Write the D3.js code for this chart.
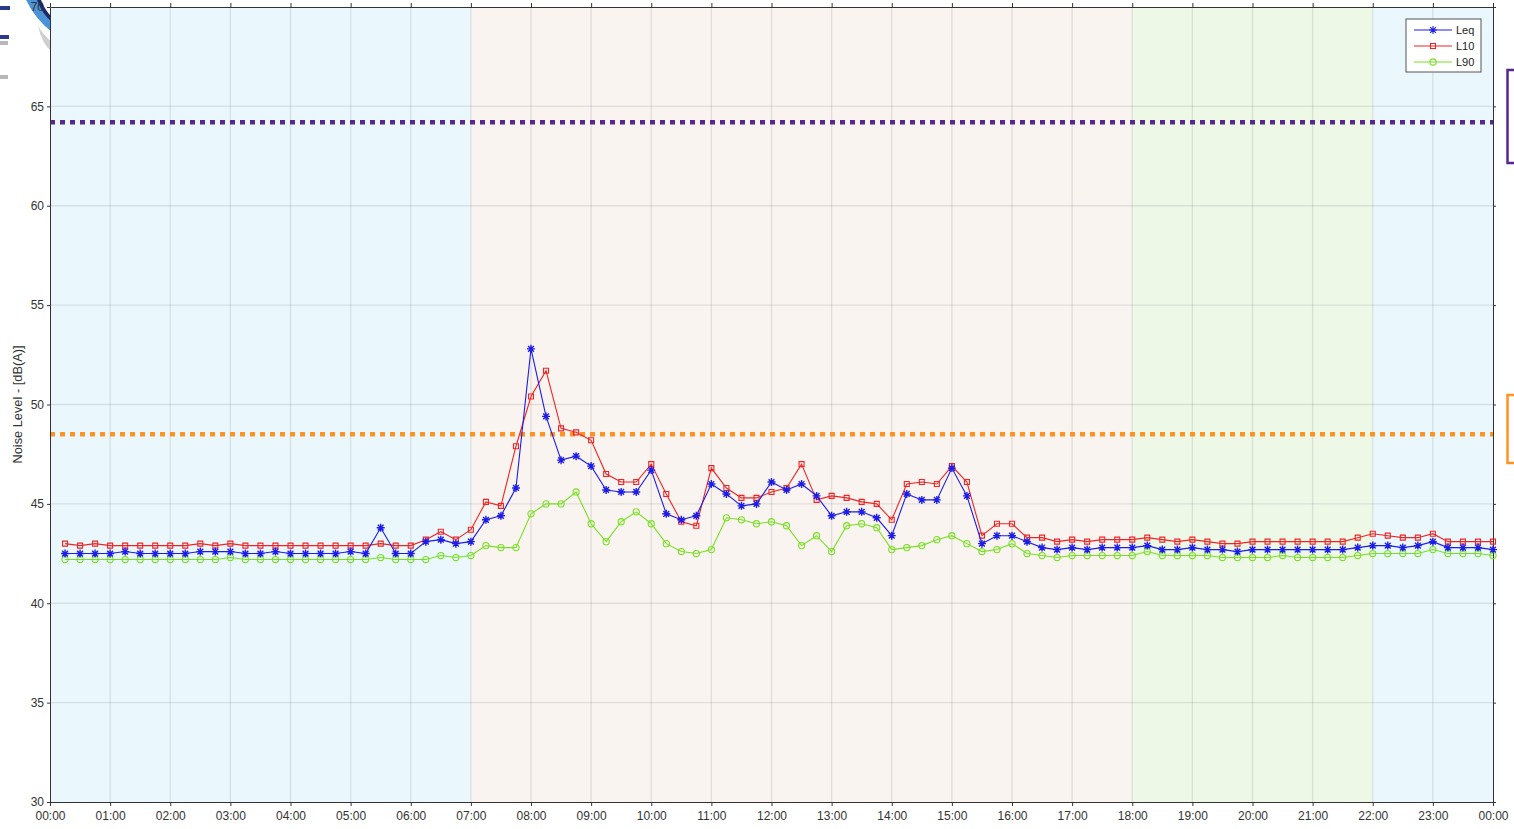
<!DOCTYPE html>
<html>
<head>
<meta charset="utf-8">
<script src="https://cdn.jsdelivr.net/npm/d3@7"></script>
<style>
  body { margin: 0; background: #fff; }
  svg { display: block; }
  .tick text { font-family: "Liberation Sans", Arial, sans-serif; font-size: 12px; fill: #333; }
  .axis path, .axis line { stroke: #333; }
  .legend text { font-family: "Liberation Sans", Arial, sans-serif; font-size: 11px; fill: #222; }
</style>
</head>
<body>
<div id="chart"></div>
<script>
// 15 minute samples, first one at 00:15, last one at 24:00
const firstHour = 0.25;
const stepHour = 0.25;

const leq = [
  42.5, 42.5, 42.5, 42.5, 42.6, 42.5, 42.5, 42.5, 42.5, 42.6, 42.6, 42.6,
  42.5, 42.5, 42.6, 42.5, 42.5, 42.5, 42.5, 42.6, 42.5, 43.8, 42.5, 42.5,
  43.1, 43.2, 43.0, 43.1, 44.2, 44.4, 45.8, 52.8, 49.4, 47.2, 47.4, 46.9,
  45.7, 45.6, 45.6, 46.7, 44.5, 44.2, 44.4, 46.0, 45.5, 44.9, 45.0, 46.1,
  45.7, 46.0, 45.4, 44.4, 44.6, 44.6, 44.3, 43.4, 45.5, 45.2, 45.2, 46.8,
  45.4, 43.0, 43.4, 43.4, 43.1, 42.8, 42.7, 42.8, 42.7, 42.8, 42.8, 42.8,
  42.9, 42.7, 42.7, 42.8, 42.7, 42.7, 42.6, 42.7, 42.7, 42.7, 42.7, 42.7,
  42.7, 42.7, 42.8, 42.9, 42.9, 42.8, 42.9, 43.1, 42.8, 42.8, 42.8, 42.7
];
const l10 = [
  43.0, 42.9, 43.0, 42.9, 42.9, 42.9, 42.9, 42.9, 42.9, 43.0, 42.9, 43.0,
  42.9, 42.9, 42.9, 42.9, 42.9, 42.9, 42.9, 42.9, 42.9, 43.0, 42.9, 42.9,
  43.2, 43.6, 43.2, 43.7, 45.1, 44.9, 47.9, 50.4, 51.7, 48.8, 48.6, 48.2,
  46.5, 46.1, 46.1, 47.0, 45.5, 44.1, 43.9, 46.8, 45.8, 45.3, 45.3, 45.6,
  45.8, 47.0, 45.2, 45.4, 45.3, 45.1, 45.0, 44.2, 46.0, 46.1, 46.0, 46.9,
  46.1, 43.4, 44.0, 44.0, 43.3, 43.3, 43.1, 43.2, 43.1, 43.2, 43.2, 43.2,
  43.3, 43.2, 43.1, 43.2, 43.1, 43.0, 43.0, 43.1, 43.1, 43.1, 43.1, 43.1,
  43.1, 43.1, 43.3, 43.5, 43.4, 43.3, 43.3, 43.5, 43.1, 43.1, 43.1, 43.1
];
const l90 = [
  42.2, 42.2, 42.2, 42.2, 42.2, 42.2, 42.2, 42.2, 42.2, 42.2, 42.2, 42.3,
  42.2, 42.2, 42.2, 42.2, 42.2, 42.2, 42.2, 42.2, 42.2, 42.3, 42.2, 42.2,
  42.2, 42.4, 42.3, 42.4, 42.9, 42.8, 42.8, 44.5, 45.0, 45.0, 45.6, 44.0,
  43.1, 44.1, 44.6, 44.0, 43.0, 42.6, 42.5, 42.7, 44.3, 44.2, 44.0, 44.1,
  43.9, 42.9, 43.4, 42.6, 43.9, 44.0, 43.8, 42.7, 42.8, 42.9, 43.2, 43.4,
  43.0, 42.6, 42.7, 43.0, 42.5, 42.4, 42.3, 42.4, 42.4, 42.4, 42.4, 42.4,
  42.6, 42.4, 42.4, 42.4, 42.4, 42.3, 42.3, 42.3, 42.3, 42.4, 42.3, 42.3,
  42.3, 42.3, 42.4, 42.5, 42.5, 42.5, 42.5, 42.7, 42.5, 42.5, 42.5, 42.4
];

const hourLabels = [
  '00:00', '01:00', '02:00', '03:00', '04:00', '05:00', '06:00', '07:00',
  '08:00', '09:00', '10:00', '11:00', '12:00', '13:00', '14:00', '15:00',
  '16:00', '17:00', '18:00', '19:00', '20:00', '21:00', '22:00', '23:00', '00:00'
];
const yTickValues = [30, 35, 40, 45, 50, 55, 60, 65, 70];

// time of day periods (start hour, end hour, kind)
const periodStart = [0, 7, 18, 22];
const periodEnd = [7, 18, 22, 24];
const periodKind = ['night', 'day', 'evening', 'night'];

// criteria lines
const limitValues = [64.2, 48.5];

const width = 1514;
const height = 829;
const margin = {left: 50, right: 21, top: 7, bottom: 27};
const innerWidth = width - margin.left - margin.right;
const innerHeight = height - margin.top - margin.bottom;

const periodColor = {night: '#eaf8fe', day: '#f9f4f0', evening: '#eef8e7'};
const limitColor = ['#58278c', '#ff9322'];

const seriesList = [
  {name: 'Leq', values: leq, color: '#1d1de8', marker: 'star'},
  {name: 'L10', values: l10, color: '#ee2424', marker: 'square'},
  {name: 'L90', values: l90, color: '#78e021', marker: 'circle'}
];

const svg = d3.select('#chart').append('svg')
  .attr('width', width)
  .attr('height', height);

// bit of the logo peeking in at the top left corner
const logo = svg.append('g');
logo.append('path')
  .attr('d', 'M26,0 L38,0 Q44,14 52,22 L52,32 Q36,20 26,0 Z')
  .attr('fill', '#4b93d6');
logo.append('path')
  .attr('d', 'M37,0 L41,0 Q46,12 52,17 L52,22 Q42,14 37,0 Z')
  .attr('fill', '#1c2a6b');
logo.append('path')
  .attr('d', 'M38,26 Q44,36 52,42 L52,52 Q42,44 38,26 Z')
  .attr('fill', '#cfcfd3');
logo.append('rect').attr('x', 0).attr('y', 6).attr('width', 10).attr('height', 4).attr('fill', '#2b3a8a');
logo.append('rect').attr('x', 0).attr('y', 35).attr('width', 9).attr('height', 4).attr('fill', '#2b3a8a');
logo.append('rect').attr('x', 0).attr('y', 41).attr('width', 8).attr('height', 4).attr('fill', '#b8b8bc');
logo.append('rect').attr('x', 0).attr('y', 75).attr('width', 8).attr('height', 4).attr('fill', '#b8b8bc');

const g = svg.append('g')
  .attr('transform', `translate(${margin.left},${margin.top})`);

const xScale = d3.scaleLinear()
  .domain([0, 24])
  .range([0, innerWidth]);
const yScale = d3.scaleLinear()
  .domain([30, 70])
  .range([innerHeight, 0]);

// period bands
g.selectAll('rect.band').data(periodStart)
  .enter().append('rect')
  .attr('class', 'band')
  .attr('x', (d, i) => xScale(d))
  .attr('y', 0)
  .attr('width', (d, i) => xScale(periodEnd[i]) - xScale(d))
  .attr('height', innerHeight)
  .attr('fill', (d, i) => periodColor[periodKind[i]]);

// grid
const hours = d3.range(hourLabels.length);
g.append('g').selectAll('line').data(hours.slice(1, -1))
  .enter().append('line')
  .attr('x1', d => xScale(d)).attr('x2', d => xScale(d))
  .attr('y1', 0).attr('y2', innerHeight)
  .attr('stroke', 'rgba(60,70,80,0.13)')
  .attr('stroke-width', 1.3);
g.append('g').selectAll('line').data(yTickValues.slice(1, -1))
  .enter().append('line')
  .attr('x1', 0).attr('x2', innerWidth)
  .attr('y1', d => yScale(d)).attr('y2', d => yScale(d))
  .attr('stroke', 'rgba(60,70,80,0.13)')
  .attr('stroke-width', 1.3);

// criteria lines
g.selectAll('line.limit').data(limitValues)
  .enter().append('line')
  .attr('class', 'limit')
  .attr('x1', 0).attr('x2', innerWidth)
  .attr('y1', d => yScale(d)).attr('y2', d => yScale(d))
  .attr('stroke', (d, i) => limitColor[i])
  .attr('stroke-width', 4.5)
  .attr('stroke-dasharray', '5,5');

// axes
const xAxis = d3.axisBottom(xScale)
  .tickValues(hours)
  .tickFormat((d, i) => hourLabels[i])
  .tickSize(4)
  .tickSizeOuter(0)
  .tickPadding(5);
const xAxisTop = d3.axisTop(xScale)
  .tickValues(hours)
  .tickFormat('')
  .tickSize(4)
  .tickSizeOuter(0);
const yAxis = d3.axisLeft(yScale)
  .tickValues(yTickValues)
  .tickSize(3)
  .tickSizeOuter(0)
  .tickPadding(3);
const yAxisRight = d3.axisRight(yScale)
  .tickValues(yTickValues)
  .tickFormat('')
  .tickSize(3)
  .tickSizeOuter(0);

g.append('g').attr('class', 'axis')
  .attr('transform', `translate(0,${innerHeight})`)
  .call(xAxis);
g.append('g').attr('class', 'axis').call(xAxisTop);
g.append('g').attr('class', 'axis')
  .attr('transform', `translate(${innerWidth},0)`)
  .call(yAxisRight);
g.append('g').attr('class', 'axis').call(yAxis);

svg.append('text')
  .attr('transform', `translate(22,${margin.top + innerHeight / 2}) rotate(-90)`)
  .attr('text-anchor', 'middle')
  .style('font-family', '"Liberation Sans", Arial, sans-serif')
  .style('font-size', '12.8px')
  .style('fill', '#333')
  .text('Noise Level - [dB(A)]');

// series
const xOf = i => xScale(firstHour + i * stepHour);
const line = d3.line()
  .x((d, i) => xOf(i))
  .y(d => yScale(d));

function markerPath(kind) {
  if (kind === 'star') {
    const s = 4, k = s * 0.72;
    return `M${-s},0L${s},0M0,${-s}L0,${s}M${-k},${-k}L${k},${k}M${-k},${k}L${k},${-k}`;
  }
  if (kind === 'square') return 'M-2.5,-2.5H2.5V2.5H-2.5Z';
  return d3.symbol(d3.symbolCircle, 30)();
}

seriesList.slice().reverse().forEach(s => {
  const sg = g.append('g');
  sg.append('path')
    .datum(s.values)
    .attr('fill', 'none')
    .attr('stroke', s.color)
    .attr('stroke-width', 1.1)
    .attr('d', line);
  sg.selectAll('path.mk').data(s.values)
    .enter().append('path')
    .attr('class', 'mk')
    .attr('transform', (d, i) => `translate(${xOf(i)},${yScale(d)})`)
    .attr('d', markerPath(s.marker))
    .attr('fill', 'none')
    .attr('stroke', s.color)
    .attr('stroke-width', s.marker === 'star' ? 1.4 : 1.1);
});

// legend
const legend = svg.append('g')
  .attr('class', 'legend')
  .attr('transform', 'translate(1406,19)');
legend.append('rect')
  .attr('width', 75).attr('height', 53)
  .attr('fill', '#fff')
  .attr('stroke', '#555')
  .attr('stroke-width', 1);
seriesList.forEach((s, i) => {
  const row = legend.append('g').attr('transform', `translate(0,${11 + i * 16})`);
  row.append('line')
    .attr('x1', 8).attr('x2', 46)
    .attr('stroke', s.color).attr('stroke-width', 1.1);
  row.append('path')
    .attr('transform', 'translate(27,0)')
    .attr('d', markerPath(s.marker))
    .attr('fill', 'none')
    .attr('stroke', s.color)
    .attr('stroke-width', 1.1);
  row.append('text')
    .attr('x', 50).attr('dy', '0.35em')
    .text(s.name);
});

// criteria label boxes cut by the right edge
const boxTop = [70, 395];
const boxHeight = [93, 68];
boxTop.forEach((t, i) => {
  svg.append('rect')
    .attr('x', 1507.5).attr('y', t)
    .attr('width', 20).attr('height', boxHeight[i])
    .attr('fill', '#fff')
    .attr('stroke', limitColor[i])
    .attr('stroke-width', 2.5);
});
</script>
</body>
</html>
